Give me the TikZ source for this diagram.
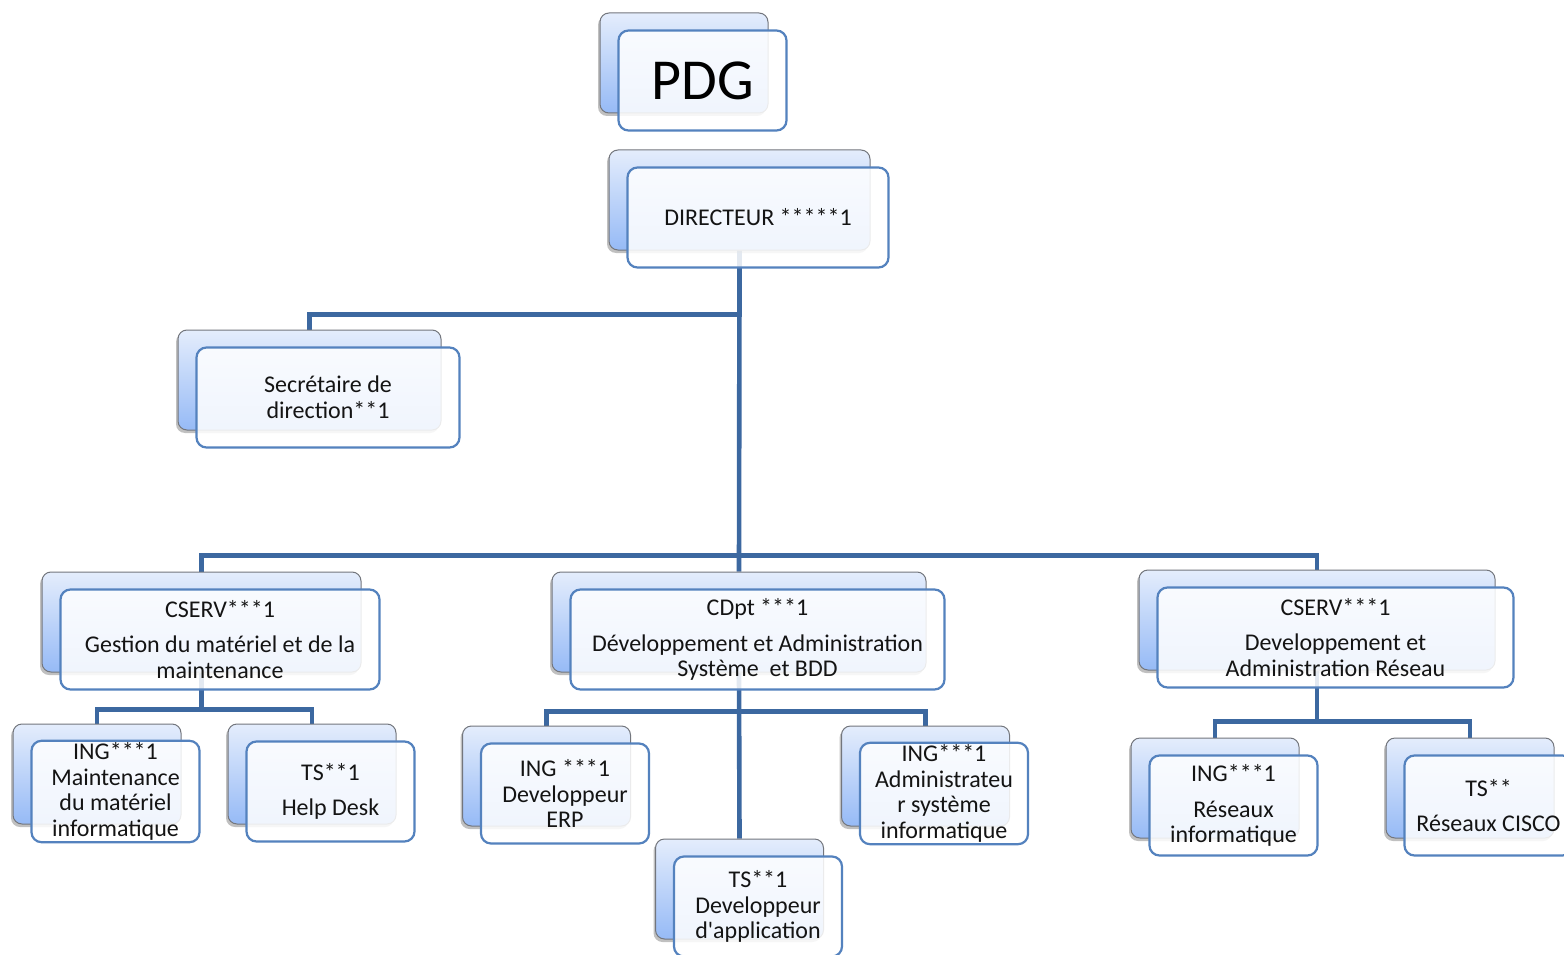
\documentclass[tikz,border=0pt]{standalone}
\usepackage{fontspec}
\setmainfont{Carlito}[Ligatures=TeXOff]
\usetikzlibrary{shadows,backgrounds}
\definecolor{conncol}{RGB}{60,104,160}
\definecolor{frontcol}{RGB}{84,130,190}
\definecolor{backtop}{RGB}{228,237,252}
\definecolor{backbot}{RGB}{150,186,246}
\definecolor{backedge}{RGB}{115,118,125}
\definecolor{txt}{RGB}{20,20,20}
\tikzset{
  backbox/.style={draw=backedge, line width=1pt, rounded corners=9pt,
    top color=backtop, bottom color=backbot,
    drop shadow={shadow xshift=-2pt, shadow yshift=-3pt, opacity=0.35, fill=black!70}},
  frontbox/.style={draw=frontcol, line width=2.2pt, rounded corners=10pt,
    fill=white, fill opacity=0.86, text opacity=1, text=txt, align=center,
    inner sep=2pt, font=\fontsize{24}{25.5}\selectfont},
  conn/.style={draw=conncol, line width=4.6pt},
}
% one position: shaded card behind, framed card in front
\newcommand\orgunit[5]{%
  \node[backbox, minimum width=#3pt, minimum height=#4pt] (#1b) at #2 {};
  \node[frontbox, minimum width=#3pt, minimum height=#4pt, shift={(18.5,17.5)}] (#1) at #2 {#5};
}
\begin{document}
\begin{tikzpicture}[x=1pt,y=-1pt]
\useasboundingbox (0,0) rectangle (1564,955);

\orgunit{pdg}{(684,63)}{168}{100}{\fontsize{58}{60}\selectfont\color{black}PDG}
\orgunit{dir}{(739.5,200)}{261}{100}{DIRECTEUR *****1}
\orgunit{sec}{(309.5,380)}{263}{100}{Secrétaire de\\direction**1}
\orgunit{csa}{(201.5,622)}{319}{100}{CSERV***1\\[10pt]Gestion du matériel et de la\\maintenance}
\orgunit{cdpt}{(739,622)}{374}{100}{CDpt ***1\\[10pt]Développement et Administration\\Système~~et BDD}
\orgunit{csb}{(1317,620)}{356}{100}{CSERV***1\\[10pt]Developpement et\\Administration Réseau}
\orgunit{ingm}{(97,774)}{168}{100}{ING***1\\Maintenance\\du matériel\\informatique}
\orgunit{tsh}{(312,774)}{168}{100}{TS**1\\[10pt]Help Desk}
\orgunit{erp}{(546.5,776)}{168}{100}{ING ***1\\Developpeur\\ERP}
\orgunit{adm}{(925.5,776)}{168}{100}{ING***1\\Administrateu\\r système\\informatique}
\orgunit{dev}{(739.5,889)}{168}{100}{TS**1\\Developpeur\\d'application}
\orgunit{res}{(1215,788)}{168}{100}{ING***1\\[10pt]Réseaux\\informatique}
\orgunit{cisco}{(1470,788)}{168}{100}{TS**\\[9pt]Réseaux CISCO}

\begin{scope}[on background layer]
  \fill[white] (0,0) rectangle (1564,955);
  % direction level
  \draw[conn] (dirb.south) -- (cdptb.north);
  \draw[conn] (secb.north) -- ++(0,-15) -| (dirb.south);
  \draw[conn] (csab.north) -- ++(0,-16) -| (csbb.north);
  % maintenance service
  \draw[conn] (csab.south) -- ++(0,38);
  \draw[conn] (ingmb.north) -- ++(0,-14) -| (tshb.north);
  % development department
  \draw[conn] (cdptb.south) -- (devb.north);
  \draw[conn] (erpb.north) -- ++(0,-14) -| (admb.north);
  % network service
  \draw[conn] (csbb.south) -- ++(0,52);
  \draw[conn] (resb.north) -- ++(0,-16) -| (ciscob.north);
\end{scope}
\end{tikzpicture}
\end{document}
